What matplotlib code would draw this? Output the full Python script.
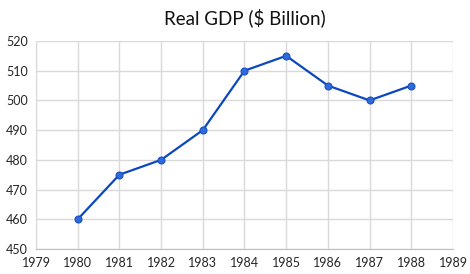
import matplotlib
matplotlib.use('Agg')
from matplotlib import pyplot as plt

years = [1980, 1981, 1982, 1983, 1984, 1985, 1986, 1987, 1988]
gdp = [460, 475, 480, 490, 510, 515, 505, 500, 505]
xticks = list(range(1979, 1990))
yticks = list(range(450, 521, 10))

plt.rcParams['font.family'] = ['Lato', 'DejaVu Sans']

fig = plt.figure(figsize=(4.7, 2.74), dpi=100)
ax = fig.add_axes([0.0766, 0.0912, 0.8872, 0.7592])

ax.plot(years, gdp, color='#0b48bf', linewidth=1.6, marker='o',
        markersize=5, markerfacecolor='#2e6ad8', markeredgecolor='#1a4fc4',
        markeredgewidth=0.8, zorder=3)

ax.set_xlim(1979, 1989)
ax.set_ylim(450, 520)
ax.set_xticks(xticks)
ax.set_yticks(yticks)
ax.grid(True, color='#d9d9d9', linewidth=1)
ax.set_axisbelow(True)
for s in ['top', 'right']:
    ax.spines[s].set_visible(False)
ax.spines['left'].set_color('#d9d9d9')
ax.spines['bottom'].set_color('#bfbfbf')
ax.tick_params(length=0, labelsize=9, labelcolor='#262626', pad=6)
ax.set_title('Real GDP ($ Billion)', fontsize=13.5, color='#111111', pad=12)

fig.savefig('out.png', dpi=100)
